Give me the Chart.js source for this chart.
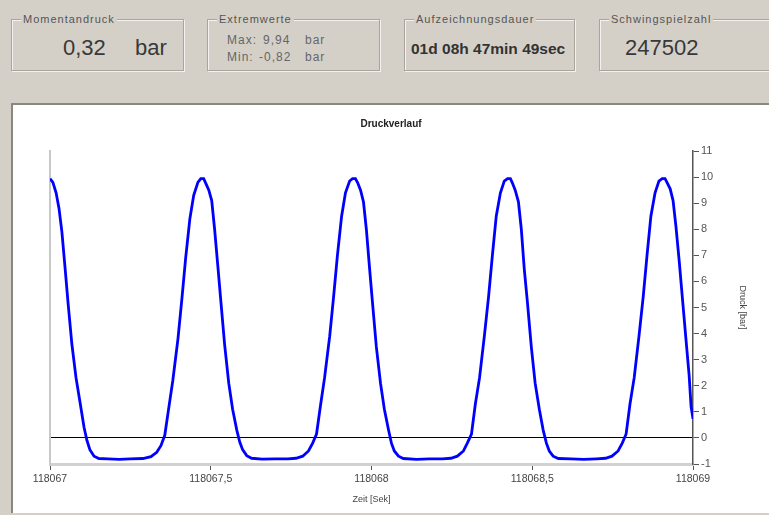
<!DOCTYPE html>
<html>
<head>
<meta charset="utf-8">
<script src="https://cdn.jsdelivr.net/npm/chart.js@4"></script>
<style>
  html, body { margin: 0; padding: 0; }
  body {
    width: 769px; height: 515px; overflow: hidden; position: relative;
    background: #d4d0c8;
    font-family: "Liberation Sans", Arial, sans-serif;
  }
  .box {
    position: absolute; top: 19px; height: 52px; width: 173px;
    box-sizing: border-box;
    border: 1px solid #a9a59c;
    box-shadow: inset 1px 1px 0 #f4f2ee, 1px 1px 0 #f4f2ee;
  }
  .box .cap {
    position: absolute; top: -8px; left: 9px; padding: 0 2px;
    background: #d4d0c8; color: #555; font-size: 11px; letter-spacing: 1px;
    line-height: 14px;
  }
  .t { position: absolute; white-space: nowrap; color: #383838; }
  .big { font-size: 22px; line-height: 22px; }
  .small { font-size: 12px; line-height: 14px; color: #666; letter-spacing: 1px; }
  #panel {
    position: absolute; left: 11px; top: 103px; width: 758px; height: 410px;
    box-sizing: border-box; background: #fff;
    border-top: 2px solid #8a8780; border-left: 2px solid #8a8780;
  }
  #druckChart { position: absolute; left: 13px; top: 105px; }
</style>
</head>
<body>

<div class="box" style="left:11px">
  <span class="cap">Momentandruck</span>
  <span class="t big" style="left:51px; top:17px">0,32</span>
  <span class="t big" style="left:123px; top:17px">bar</span>
</div>
<div class="box" style="left:207px">
  <span class="cap">Extremwerte</span>
  <span class="t small" style="left:19px; top:13px">Max:</span>
  <span class="t small" style="left:55px; top:13px">9,94</span>
  <span class="t small" style="left:97px; top:13px">bar</span>
  <span class="t small" style="left:19px; top:30px">Min:</span>
  <span class="t small" style="left:51px; top:30px">-0,82</span>
  <span class="t small" style="left:97px; top:30px">bar</span>
</div>
<div class="box" style="left:404px; width:171px">
  <span class="cap">Aufzeichnungsdauer</span>
  <span class="t" style="left:6px; top:20px; font-size:15.5px; line-height:18px; font-weight:bold; color:#333">01d 08h 47min 49sec</span>
</div>
<div class="box" style="left:599px">
  <span class="cap">Schwingspielzahl</span>
  <span class="t big" style="left:25px; top:17px">247502</span>
</div>

<div id="panel"></div>
<canvas id="druckChart" width="756" height="408"></canvas>

<script>
// Druckverlauf: Zeit [Sek] / Druck [bar]
const zeit = [
  118067.000, 118067.009, 118067.019, 118067.028, 118067.037, 118067.047, 118067.056, 118067.068,
  118067.081, 118067.093, 118067.106, 118067.115, 118067.124, 118067.137, 118067.152, 118067.180,
  118067.215, 118067.250, 118067.289,
  118067.314, 118067.332, 118067.345, 118067.357, 118067.370, 118067.382, 118067.398, 118067.410,
  118067.422, 118067.435, 118067.447, 118067.460, 118067.469, 118067.478,
  118067.485, 118067.494, 118067.503, 118067.512, 118067.522, 118067.531, 118067.543, 118067.556,
  118067.568, 118067.581, 118067.590, 118067.599, 118067.612, 118067.627, 118067.660, 118067.700,
  118067.740, 118067.765,
  118067.786, 118067.804, 118067.817, 118067.829, 118067.842, 118067.854, 118067.870, 118067.882,
  118067.894, 118067.907, 118067.919, 118067.932, 118067.941, 118067.950,
  118067.957, 118067.966, 118067.975, 118067.984, 118067.994, 118068.003, 118068.015, 118068.028,
  118068.040, 118068.053, 118068.062, 118068.071, 118068.084, 118068.099, 118068.140, 118068.180,
  118068.220, 118068.247,
  118068.267, 118068.286, 118068.298, 118068.311, 118068.323, 118068.336, 118068.351, 118068.364,
  118068.376, 118068.388, 118068.401, 118068.413, 118068.423, 118068.432,
  118068.438, 118068.447, 118068.457, 118068.466, 118068.475, 118068.485, 118068.497, 118068.509,
  118068.522, 118068.534, 118068.544, 118068.553, 118068.565, 118068.581, 118068.620, 118068.660,
  118068.700, 118068.728,
  118068.748, 118068.767, 118068.780, 118068.792, 118068.804, 118068.817, 118068.832, 118068.845,
  118068.857, 118068.869, 118068.882, 118068.894, 118068.904, 118068.913,
  118068.919, 118068.929, 118068.938, 118068.947, 118068.957, 118068.966, 118068.978, 118068.988,
  118068.994, 118069.000
];
const druck = [
  9.94, 9.80, 9.40, 8.80, 7.90, 6.50, 5.20, 3.60,
  2.30, 1.40, 0.40, -0.10, -0.45, -0.70, -0.79, -0.80,
  -0.82, -0.80, -0.79,
  -0.72, -0.55, -0.30, 0.10, 1.20, 2.20, 3.80, 5.30,
  6.90, 8.40, 9.30, 9.80, 9.94, 9.94,
  9.75, 9.50, 9.10, 8.00, 6.60, 5.30, 3.60, 2.10,
  1.10, 0.30, -0.15, -0.45, -0.68, -0.78, -0.81, -0.80,
  -0.80, -0.78,
  -0.70, -0.50, -0.20, 0.15, 1.30, 2.30, 3.90, 5.40,
  7.00, 8.50, 9.40, 9.85, 9.94, 9.94,
  9.78, 9.50, 9.05, 8.00, 6.50, 5.20, 3.50, 2.10,
  1.10, 0.30, -0.20, -0.50, -0.70, -0.79, -0.82, -0.80,
  -0.80, -0.78,
  -0.70, -0.50, -0.20, 0.15, 1.30, 2.30, 3.90, 5.40,
  7.00, 8.50, 9.40, 9.85, 9.94, 9.94,
  9.78, 9.50, 9.05, 8.00, 6.50, 5.20, 3.50, 2.10,
  1.10, 0.30, -0.20, -0.50, -0.70, -0.79, -0.80, -0.82,
  -0.80, -0.78,
  -0.70, -0.50, -0.20, 0.15, 1.30, 2.30, 3.90, 5.40,
  7.00, 8.50, 9.40, 9.85, 9.94, 9.94,
  9.80, 9.55, 9.10, 8.10, 6.80, 5.50, 3.80, 2.40,
  1.20, 0.73
];
const zeitTicks = [118067, 118067.5, 118068, 118068.5, 118069];
const druckTicks = [-1, 0, 1, 2, 3, 4, 5, 6, 7, 8, 9, 10, 11];

Chart.defaults.font.family = "'Liberation Sans', Arial, sans-serif";

const ctx = document.getElementById("druckChart");

new Chart(ctx, {
  type: "line",
  data: {
    datasets: [{
      label: "Druck",
      data: zeit.map((t, i) => ({ x: t, y: druck[i] })),
      borderColor: "#0000ff",
      borderWidth: 2.8,
      pointRadius: 0,
      tension: 0,
      fill: false
    }]
  },
  options: {
    responsive: false,
    animation: false,
    layout: { padding: 0 },
    plugins: {
      legend: { display: false },
      tooltip: { enabled: false },
      title: {
        display: true,
        text: "Druckverlauf",
        color: "#222",
        font: { size: 10, weight: "bold" },
        padding: { top: 13, bottom: 21 }
      }
    },
    scales: {
      x: {
        type: "linear",
        position: "bottom",
        min: zeitTicks[0],
        max: zeitTicks[zeitTicks.length - 1],
        afterBuildTicks: s => { s.ticks = zeitTicks.map(v => ({ value: v })); },
        afterFit: s => { s.height = 49; },
        ticks: {
          color: "#444",
          font: { size: 10.5 },
          padding: 3,
          maxRotation: 0,
          autoSkip: false,
          callback: v => String(v).replace(".", ",")
        },
        grid: {
          drawOnChartArea: false,
          drawTicks: true,
          tickLength: 6,
          tickColor: "#555",
          color: "transparent"
        },
        border: { color: "#d2d2d2", width: 3 },
        title: {
          display: true,
          text: "Zeit [Sek]",
          color: "#444",
          font: { size: 9 },
          padding: { top: 0, bottom: 7.6 }
        }
      },
      y: {
        type: "linear",
        position: "right",
        min: druckTicks[0],
        max: druckTicks[druckTicks.length - 1],
        afterBuildTicks: s => { s.ticks = druckTicks.map(v => ({ value: v })); },
        afterFit: s => { s.width = 76; },
        ticks: { color: "#555", font: { size: 11 }, padding: 2 },
        grid: {
          drawOnChartArea: true,
          tickLength: 6,
          tickColor: "#555",
          color: c => (c.tick && c.tick.value === 0 ? "#000" : "transparent"),
          lineWidth: 1
        },
        border: { color: "#555", width: 1.5 },
        title: {
          display: true,
          text: "Druck [bar]",
          color: "#444",
          font: { size: 9 },
          padding: { top: 21.6, bottom: 0 }
        }
      },
      yLinks: {
        type: "linear",
        position: "left",
        min: druckTicks[0],
        max: druckTicks[druckTicks.length - 1],
        afterFit: s => { s.width = 37; },
        ticks: { display: false },
        grid: { drawOnChartArea: false, drawTicks: false, color: "transparent" },
        border: { color: "#c8c8c8", width: 2 }
      }
    }
  }
});
</script>
</body>
</html>
